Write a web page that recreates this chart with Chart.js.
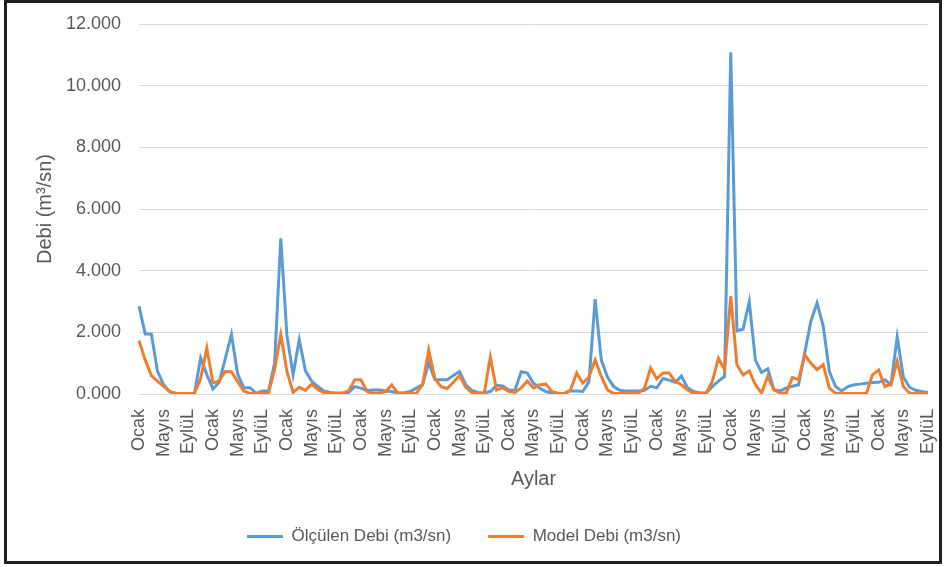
<!DOCTYPE html>
<html lang="tr">
<head>
<meta charset="utf-8">
<title>Debi</title>
<script src="https://cdn.jsdelivr.net/npm/chart.js@4.4.1/dist/chart.umd.min.js"></script>
<style>
  html, body { margin: 0; padding: 0; background: #fff; }
  #wrap { position: relative; width: 948px; height: 567px; }
  #c { position: absolute; left: 0; top: 0; }
  #frame { position: absolute; left: 4px; top: 0; width: 932px; height: 558px;
           border: 3px solid #1e1e1e; pointer-events: none; }
</style>
</head>
<body>
<div id="wrap">
  <canvas id="c" width="948" height="567"></canvas>
  <div id="frame"></div>
</div>
<script>
// Month names used for the category axis (one entry per month, starting in January)
const monthNames = ['Ocak', 'Şubat', 'Mart', 'Nisan', 'Mayıs', 'Haziran',
                    'Temmuz', 'Ağustos', 'EylüL', 'Ekim', 'Kasım', 'Aralık'];
const monthCount = 129;
const labelStep = 4;

// Observed monthly discharge (m3/sn)
const olculenDebi = [
  2.85, 1.95, 1.95, 0.74, 0.30, 0.07, 0.02, 0.02, 0.02, 0.02, 1.17, 0.63,
  0.16, 0.38, 1.15, 1.93, 0.65, 0.20, 0.20, 0.03, 0.10, 0.09, 1.00, 5.05,
  1.90, 0.62, 1.76, 0.75, 0.42, 0.24, 0.10, 0.05, 0.03, 0.03, 0.05, 0.24,
  0.19, 0.11, 0.13, 0.13, 0.10, 0.08, 0.03, 0.04, 0.08, 0.19, 0.30, 1.02,
  0.46, 0.46, 0.46, 0.60, 0.73, 0.30, 0.12, 0.05, 0.04, 0.08, 0.28, 0.26,
  0.13, 0.12, 0.72, 0.68, 0.35, 0.19, 0.08, 0.03, 0.02, 0.02, 0.10, 0.10,
  0.08, 0.40, 3.08, 1.10, 0.55, 0.24, 0.12, 0.10, 0.10, 0.10, 0.12, 0.25,
  0.20, 0.50, 0.45, 0.38, 0.58, 0.20, 0.08, 0.03, 0.03, 0.24, 0.42, 0.57,
  11.08, 2.05, 2.10, 3.00, 1.10, 0.70, 0.82, 0.14, 0.10, 0.20, 0.25, 0.30,
  1.33, 2.36, 2.95, 2.20, 0.73, 0.24, 0.10, 0.24, 0.30, 0.32, 0.35, 0.37,
  0.38, 0.46, 0.30, 1.85, 0.55, 0.22, 0.12, 0.08, 0.05
];

// Modelled monthly discharge (m3/sn)
const modelDebi = [
  1.73, 1.10, 0.60, 0.42, 0.25, 0.08, 0.02, 0.02, 0.02, 0.02, 0.50, 1.49,
  0.36, 0.42, 0.73, 0.72, 0.40, 0.10, 0.02, 0.02, 0.02, 0.02, 0.80, 1.93,
  0.73, 0.05, 0.22, 0.12, 0.32, 0.15, 0.05, 0.02, 0.02, 0.02, 0.10, 0.46,
  0.46, 0.08, 0.02, 0.03, 0.08, 0.30, 0.03, 0.02, 0.02, 0.02, 0.30, 1.42,
  0.50, 0.24, 0.18, 0.38, 0.60, 0.22, 0.05, 0.02, 0.02, 1.20, 0.13, 0.20,
  0.08, 0.05, 0.20, 0.42, 0.19, 0.30, 0.32, 0.08, 0.02, 0.02, 0.13, 0.68,
  0.35, 0.55, 1.11, 0.57, 0.13, 0.02, 0.02, 0.02, 0.02, 0.02, 0.19, 0.84,
  0.49, 0.68, 0.68, 0.41, 0.30, 0.13, 0.02, 0.02, 0.02, 0.41, 1.16, 0.79,
  3.17, 0.95, 0.62, 0.75, 0.30, 0.03, 0.57, 0.14, 0.03, 0.03, 0.54, 0.46,
  1.27, 1.00, 0.79, 0.95, 0.19, 0.03, 0.02, 0.02, 0.02, 0.02, 0.02, 0.62,
  0.78, 0.24, 0.32, 1.06, 0.24, 0.03, 0.02, 0.02, 0.02
];

const aylar = Array.from({ length: monthCount }, (_, i) => monthNames[i % 12]);

const textColor = '#595959';
const fontFamily = '"Liberation Sans", Arial, sans-serif';

new Chart(document.getElementById('c'), {
  type: 'line',
  data: {
    labels: aylar,
    datasets: [
      {
        label: 'Ölçülen Debi (m3/sn)',
        data: olculenDebi,
        borderColor: '#5B9BD5',
        backgroundColor: '#5B9BD5',
        borderWidth: 3,
        pointRadius: 0,
        tension: 0,
        order: 1
      },
      {
        label: 'Model Debi (m3/sn)',
        data: modelDebi,
        borderColor: '#ED7D31',
        backgroundColor: '#ED7D31',
        borderWidth: 3,
        pointRadius: 0,
        tension: 0,
        order: 0
      }
    ]
  },
  options: {
    responsive: false,
    animation: false,
    events: [],
    layout: { padding: { left: 0, right: 20, top: 24, bottom: 12 } },
    plugins: {
      tooltip: { enabled: false },
      legend: {
        position: 'bottom',
        labels: {
          usePointStyle: true,
          pointStyle: 'line',
          pointStyleWidth: 36,
          boxHeight: 17,
          padding: 37,
          color: textColor,
          font: { family: fontFamily, size: 17 },
          sort: (a, b) => a.datasetIndex - b.datasetIndex
        }
      }
    },
    scales: {
      x: {
        type: 'category',
        offset: false,
        grid: { display: false, drawTicks: false },
        border: { display: false },
        ticks: {
          autoSkip: false,
          minRotation: 90,
          maxRotation: 90,
          padding: 15,
          color: textColor,
          font: { family: fontFamily, size: 18 },
          callback: function (value, index) {
            return index % labelStep === 0 ? this.getLabelForValue(value) : '';
          }
        },
        title: {
          display: true,
          text: 'Aylar',
          color: textColor,
          font: { family: fontFamily, size: 20 },
          padding: { top: 0, bottom: 0 }
        },
        afterFit: (scale) => {
          scale.height = 97;
          scale.paddingLeft = 0;
          scale.paddingRight = 0;
        }
      },
      y: {
        min: 0,
        max: 12,
        grid: { color: '#d9d9d9', lineWidth: 1, drawTicks: false },
        border: { display: false },
        ticks: {
          stepSize: 2,
          padding: 18,
          color: textColor,
          font: { family: fontFamily, size: 18 },
          callback: (v) => Number(v).toFixed(3)
        },
        title: {
          display: true,
          text: 'Debi (m³/sn)',
          color: textColor,
          font: { family: fontFamily, size: 20 },
          padding: { top: 33, bottom: 0 }
        },
        afterFit: (scale) => {
          scale.width = 139;
          scale.paddingTop = 0;
          scale.paddingBottom = 0;
        }
      }
    }
  }
});
</script>
</body>
</html>
